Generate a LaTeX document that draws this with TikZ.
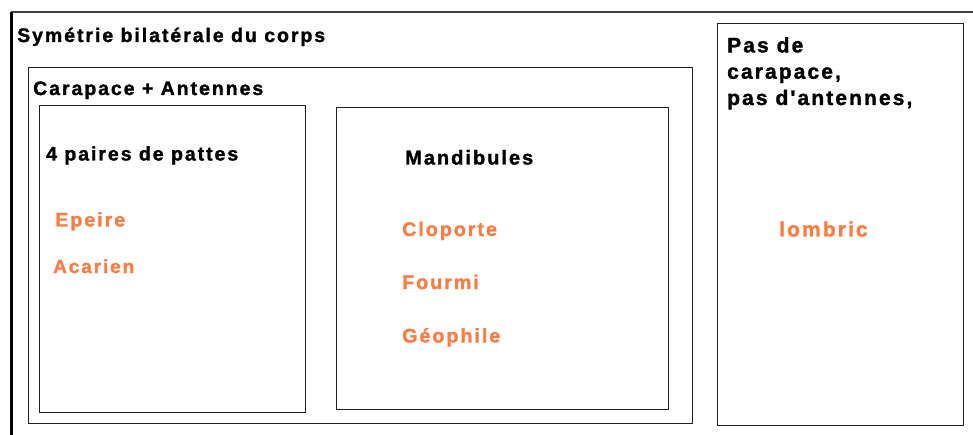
\documentclass[tikz,border=0pt]{standalone}
\usepackage{fontspec}
\newfontfamily\lab{Liberation Sans}[LetterSpace=10,FakeBold=1.5]
\definecolor{orng}{RGB}{250,125,70}
\definecolor{frame}{RGB}{30,30,30}
\begin{document}
\begin{tikzpicture}[x=1pt,y=-1pt,
  box/.style={draw=frame,line width=1.4pt,inner sep=0pt,anchor=north west},
  lbl/.style={inner sep=0pt,anchor=base west,text=black},
  olbl/.style={inner sep=0pt,anchor=base west,text=orng,font=\lab\bfseries\fontsize{19.7}{24}\selectfont}]
\useasboundingbox (0,0) rectangle (973,435);
\clip (0,0) rectangle (973,435);
% outer frame (extends beyond the picture on the right and bottom)
\coordinate (otl) at (11,12);
\coordinate (otr) at (990,12);
\coordinate (obl) at (11,450);
\draw[line width=2pt,draw=black!75] (otl) -- (otr);
\draw[line width=3pt,draw=black] (otl) -- (obl);
% boxes
\node[box,minimum width=664,minimum height=356] (cara) at (28,67) {};
\node[box,minimum width=266,minimum height=307] (pattes) at (39,105) {};
\node[box,minimum width=332,minimum height=302] (mand) at (336,107) {};
\node[box,minimum width=246,minimum height=402] (pas) at (717,23) {};
% black labels
\node[lbl,font=\lab\bfseries\fontsize{19.5}{22}\selectfont] (tsym) at (17,42) {Symétrie bilatérale du corps};
\node[lbl,font=\lab\bfseries\fontsize{19.5}{22}\selectfont] (tcara) at (33,95) {Carapace + Antennes};
\node[lbl,font=\lab\bfseries\fontsize{19.5}{22}\selectfont] (tpattes) at (46,160.5) {4 paires de pattes};
\node[lbl,font=\lab\bfseries\fontsize{20}{22}\selectfont] (tmand) at (405,164.5) {Mandibules};
\node[lbl,font=\lab\bfseries\fontsize{21}{26.3}\selectfont,align=left] (tpas) at (727,105) {Pas de\\carapace,\\pas d'antennes,};
% orange labels
\node[olbl] (epeire) at (55,226.5) {Epeire};
\node[olbl,font=\lab\bfseries\fontsize{19}{24}\selectfont] (acarien) at (53,273) {Acarien};
\node[olbl] (cloporte) at (402,236) {Cloporte};
\node[olbl] (fourmi) at (402,289) {Fourmi};
\node[olbl] (geophile) at (402,342.5) {Géophile};
\node[olbl,font=\lab\bfseries\fontsize{21}{24}\selectfont] (lombric) at (779,236.5) {lombric};
\end{tikzpicture}
\end{document}
